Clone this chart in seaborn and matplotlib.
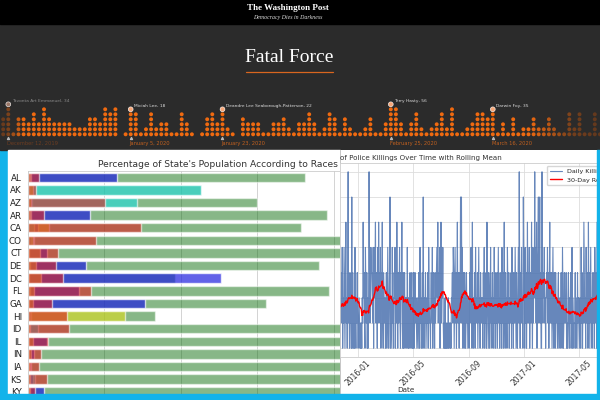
import numpy as np
import pandas as pd
import matplotlib
matplotlib.use("Agg")
import matplotlib.pyplot as plt
import matplotlib.dates as mdates
from matplotlib.colors import LinearSegmentedColormap
from matplotlib.patches import Rectangle
from matplotlib.lines import Line2D
import seaborn as sns

# Fatal Force strip: one column of dots per day, starting 2019-12-11
strip_start = "2019-12-11"
strip_counts = [4, 7, 1, 4, 4, 3, 5, 3, 6, 4,
                3, 3, 3, 3, 2, 2, 2, 4, 4, 3,
                6, 5, 6, 0, 1, 6, 5, 1, 2, 5,
                2, 3, 3, 1, 1, 5, 3, 1, 0, 1,
                4, 5, 3, 6, 2, 1, 0, 4, 3, 3,
                3, 1, 1, 3, 3, 4, 2, 1, 3, 3,
                5, 3, 1, 2, 5, 4, 1, 4, 2, 1,
                1, 2, 4, 1, 1, 3, 7, 6, 3, 1,
                3, 5, 2, 1, 2, 3, 5, 2, 6, 1,
                1, 2, 3, 5, 5, 4, 6, 1, 3, 1,
                4, 1, 2, 2, 4, 2, 2, 4, 2, 1,
                1, 5, 2, 5, 1, 1, 5, 1]
victim_names = ["Tavonta Art Emmanuel, 34", "Miciah Lee, 18",
                "Deandre Lee Seaborough-Patterson, 22", "Terry Hasty, 56",
                "Darwin Foy, 35"]
victim_dates = ["2019-12-12", "2020-01-05", "2020-01-23", "2020-02-25", "2020-03-16"]
victim_date_labels = ["December 12, 2019", "January 5, 2020", "January 23, 2020",
                      "February 25, 2020", "March 16, 2020"]

# share of each state's population by race (%)
states = ["AL", "AK", "AZ", "AR", "CA", "CO", "CT", "DE", "DC",
          "FL", "GA", "HI", "ID", "IL", "IN", "IA", "KS", "KY"]
share_white = [72.4, 45.3, 60.0, 78.3, 71.5, 87.8, 86.9, 76.2, 38.5,
               78.7, 62.4, 33.2, 88.5, 87.0, 91.0, 95.4, 91.3, 93.0]
share_black = [23.2, 0.6, 1.0, 16.2, 2.7, 0.9, 4.9, 15.3, 50.6,
               13.3, 30.6, 0.9, 0.3, 4.9, 1.7, 0.8, 1.3, 4.3]
share_native = [0.7, 45.4, 28.6, 0.7, 1.7, 1.5, 0.3, 0.5, 0.3,
                0.5, 0.3, 0.4, 2.7, 0.3, 0.3, 0.3, 1.8, 0.3]
share_asian = [0.5, 1.4, 0.7, 0.5, 5.6, 1.2, 3.1, 2.1, 3.5,
               1.7, 1.4, 25.5, 0.6, 1.4, 0.7, 0.6, 0.6, 0.5]
share_hispanic = [3.0, 2.1, 20.2, 4.3, 29.5, 17.8, 7.9, 7.3, 9.1,
                  16.5, 6.4, 10.3, 10.7, 5.3, 3.3, 2.9, 5.0, 1.9]

# daily police killings, one digit per day, one string per month
month_starts = ["2015-10-25", "2015-11-01", "2015-12-01", "2016-01-01", "2016-02-01",
                "2016-03-01", "2016-04-01", "2016-05-01", "2016-06-01", "2016-07-01",
                "2016-08-01", "2016-09-01", "2016-10-01", "2016-11-01", "2016-12-01",
                "2017-01-01", "2017-02-01", "2017-03-01", "2017-04-01", "2017-05-01",
                "2017-06-01"]
month_counts = ["3241325",
                "231432413251324131452312342513",
                "2531462314823142317142131521324",
                "2123212121326342153241313842354",
                "43251534624315263425143621432",
                "3124125312471321523143514263142",
                "352143621412413231521312421341",
                "3141242321321431523124172132412",
                "324153221432514231423453624351",
                "4625352121312121131221213342541",
                "3524136243143727251421431242312",
                "314235216213241523241352314232",
                "3142513241632143125231423152413",
                "241352314231524136214231532413",
                "3241523142253142135283142523174",
                "3152413624251342631524383526145",
                "7237241183243523134352413624",
                "2413521431423213412312421531242",
                "324121342132412513212241321423",
                "2133152413264231524316241352314",
                "3241532416"]
tick_months = ["2016-01-01", "2016-05-01", "2016-09-01", "2017-01-01", "2017-05-01"]

sns.set_style("whitegrid")
plt.rcParams["font.family"] = ["DejaVu Sans"]

W, H = 600, 400
cyan = "#12b3ea"


def box(x0, y0, x1, y1):
    # pixel box (top-left origin) -> figure fraction rect
    return [x0 / W, 1 - y1 / H, (x1 - x0) / W, (y1 - y0) / H]


fig = plt.figure(figsize=(6, 4), dpi=100, facecolor=cyan)

# ---------- header ----------
fig.add_artist(Rectangle((0, 1 - 150 / H), 1, 150 / H, transform=fig.transFigure,
                         color="#2b2b2b", zorder=-5))
fig.add_artist(Rectangle((0, 1 - 23.5 / H), 1, 23.5 / H, transform=fig.transFigure,
                         color="black", zorder=-4))
fig.text(288 / W, 1 - 7.5 / H, "The Washington Post", family="Liberation Serif",
         weight="bold", fontsize=6.5, color="white", ha="center", va="center")
fig.text(288 / W, 1 - 17.3 / H, "Democracy Dies in Darkness", family="Liberation Serif",
         style="italic", fontsize=4.2, color="#dddddd", ha="center", va="center")
fig.text(289 / W, 1 - 57 / H, "Fatal Force", family="Liberation Serif",
         fontsize=14, color="white", ha="center", va="center")
fig.add_artist(Line2D([245.7 / W, 332.7 / W], [1 - 72 / H] * 2, transform=fig.transFigure,
                      color="#d9661f", lw=0.9))

ax_dot = fig.add_axes(box(0, 80, 600, 150))
ax_dot.set_axis_off()
rows = []
for d, c in enumerate(strip_counts):
    for r in range(1, c + 1):
        rows.append((d, r))
dots = pd.DataFrame(rows, columns=["day", "row"])
dots["fade"] = np.interp(dots["day"], [0, 1, 4, 103, 112, 117], [0.25, 0.35, 1, 1, 0.3, 0.2])
dot_cmap = LinearSegmentedColormap.from_list("fade", ["#3d2b21", "#f06a10"])
sns.scatterplot(data=dots, x="day", y="row", hue="fade", palette=dot_cmap, hue_norm=(0, 1),
                s=8, linewidth=0, legend=False, ax=ax_dot)

v_days = [(pd.Timestamp(v) - pd.Timestamp(strip_start)).days for v in victim_dates]
v_tops = [strip_counts[d] for d in v_days]
hl_cols = ["#9a7768"] + ["#f6a678"] * 4
ax_dot.scatter(v_days, v_tops, s=12, c=hl_cols, edgecolors="white", linewidths=0.4, zorder=4)
ax_dot.scatter(v_days, [0.2] * len(v_days), s=2, marker="^", color="#b9b9b9", zorder=4)
for i, (d, top) in enumerate(zip(v_days, v_tops)):
    ax_dot.text(d + 0.7, top + 0.7, victim_names[i], fontsize=3.2, va="center",
                color="#8a8a8a" if i == 0 else "#dcdcdc")
    ax_dot.text(d - 0.2, -0.85, victim_date_labels[i], fontsize=3.7, va="center",
                color="#6b3d22" if i == 0 else "#c0601f")
ax_dot.set_xlim(-0.627, 117.02)
ax_dot.set_ylim(-2.14, 11.86)

# ---------- left panel: race shares ----------
fig.add_artist(Rectangle((8 / W, 6 / H), 332 / W, 244 / H, transform=fig.transFigure,
                         color="white", zorder=-5))
ax_bar = fig.add_axes(box(28, 171, 410, 394))
ax_bar.set_zorder(1)
for vals, col, a in [(share_white, "green", 0.5), (share_black, "blue", 0.7),
                     (share_native, "cyan", 0.6), (share_asian, "yellow", 0.6),
                     (share_hispanic, "red", 0.6)]:
    sns.barplot(x=vals, y=states, orient="h", color=col, alpha=a, width=0.75,
                errorbar=None, ax=ax_bar)
ax_bar.set_xlim(0, 100)
ax_bar.set_ylim(17.18, -0.5)
ax_bar.set_xticks([0, 20, 40, 60, 80, 100])
ax_bar.tick_params(axis="x", labelbottom=False, length=0)
ax_bar.tick_params(axis="y", labelsize=6.3, labelcolor="#222222", length=0, pad=4.5)
ax_bar.grid(axis="x", color="#cccccc", lw=0.6)
ax_bar.set_xlabel("")
ax_bar.set_ylabel("")
ax_bar.set_title("Percentage of State's Population According to Races ",
                 fontsize=6.6, color="#333333", pad=3)
for s in ax_bar.spines.values():
    s.set_color("#cccccc")
    s.set_linewidth(0.6)

# ---------- right panel: killings over time ----------
ax_rbg = fig.add_axes(box(340, 150, 597, 394))
ax_rbg.set_zorder(2)
ax_rbg.set_facecolor("white")
ax_rbg.set_xticks([])
ax_rbg.set_yticks([])
ax_rbg.grid(False)
for name, s in ax_rbg.spines.items():
    s.set_visible(name == "left")
    s.set_color("#bdbdbd")
    s.set_linewidth(0.6)

parts = [pd.Series([int(ch) for ch in txt], index=pd.date_range(start, periods=len(txt)))
         for start, txt in zip(month_starts, month_counts)]
daily = pd.concat(parts)
rolling = daily.rolling(30).mean()

ax_ts = fig.add_axes(box(340, 163, 648, 357))
ax_ts.set_zorder(3)
sns.lineplot(x=daily.index, y=daily.values, color="#4c72b0", lw=0.8, alpha=0.85,
             label="Daily Killings", ax=ax_ts)
sns.lineplot(x=rolling.index, y=rolling.values, color="red", lw=1.0,
             label="30-Day Rolling Mean", ax=ax_ts)
d0 = mdates.date2num(pd.Timestamp("2016-01-01"))
ax_ts.set_xlim(d0 - 38.9, d0 + 637.9)
ax_ts.set_ylim(0.65, 8.35)
ax_ts.set_yticks(range(1, 9))
ax_ts.tick_params(axis="y", labelleft=False, length=0)
ax_ts.set_xticks(mdates.date2num(pd.to_datetime(tick_months)))
ax_ts.xaxis.set_major_formatter(mdates.DateFormatter("%Y-%m"))
ax_ts.tick_params(axis="x", labelsize=5.5, labelcolor="#333333", length=0, pad=1.5,
                  labelrotation=45)
ax_ts.grid(color="#dddddd", lw=0.6)
ax_ts.set_title("of Police Killings Over Time with Rolling Mean", loc="left",
                fontsize=5.1, color="#333333", pad=2.5)
ax_ts.set_xlabel("Date", fontsize=5.2, color="#333333")
ax_ts.xaxis.set_label_coords((406 - 340) / 308, (357 - 387) / 194)
ax_ts.set_ylabel("")
ax_ts.legend(loc="upper left", bbox_to_anchor=((547 - 340) / 308, 1 - 3 / 194),
             borderaxespad=0, fontsize=4.6, frameon=True)
for s in ax_ts.spines.values():
    s.set_color("#cccccc")
    s.set_linewidth(0.6)

# cyan frame pieces that sit on top of the panels
fig.add_artist(Rectangle((597 / W, 0), 3 / W, 250 / H, transform=fig.transFigure,
                         color=cyan, zorder=10))
fig.add_artist(Rectangle((0, 0), 1, 6 / H, transform=fig.transFigure,
                         color=cyan, zorder=10))

fig.savefig("out.png", dpi=100, facecolor=cyan)
